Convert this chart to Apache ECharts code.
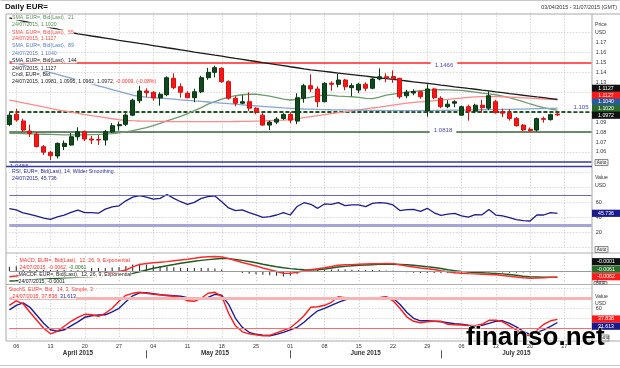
<!DOCTYPE html>
<html><head><meta charset="utf-8">
<script src="https://cdn.jsdelivr.net/npm/echarts/dist/echarts.min.js"></script>
<style>html,body{margin:0;padding:0;background:#fff}#c{width:620px;height:368px}</style>
</head><body><div id="c"></div>
<script>
const categories = [
'2015-04-03',
'2015-04-06','2015-04-07','2015-04-08','2015-04-09','2015-04-10',
'2015-04-13','2015-04-14','2015-04-15','2015-04-16','2015-04-17',
'2015-04-20','2015-04-21','2015-04-22','2015-04-23','2015-04-24',
'2015-04-27','2015-04-28','2015-04-29','2015-04-30','2015-05-01',
'2015-05-04','2015-05-05','2015-05-06','2015-05-07','2015-05-08',
'2015-05-11','2015-05-12','2015-05-13','2015-05-14','2015-05-15',
'2015-05-18','2015-05-19','2015-05-20','2015-05-21','2015-05-22',
'2015-05-25','2015-05-26','2015-05-27','2015-05-28','2015-05-29',
'2015-06-01','2015-06-02','2015-06-03','2015-06-04','2015-06-05',
'2015-06-08','2015-06-09','2015-06-10','2015-06-11','2015-06-12',
'2015-06-15','2015-06-16','2015-06-17','2015-06-18','2015-06-19',
'2015-06-22','2015-06-23','2015-06-24','2015-06-25','2015-06-26',
'2015-06-29','2015-06-30','2015-07-01','2015-07-02','2015-07-03',
'2015-07-06','2015-07-07','2015-07-08','2015-07-09','2015-07-10',
'2015-07-13','2015-07-14','2015-07-15','2015-07-16','2015-07-17',
'2015-07-20','2015-07-21','2015-07-22','2015-07-23','2015-07-24',
'2015-07-27','2015-07-28','2015-07-29','2015-07-30','2015-07-31'];
const monthLabels = ['April 2015','May 2015','June 2015','July 2015'];

const opens = [1.0875,1.0980,1.0912,1.0810,1.0778,1.0653,1.0597,1.0560,1.0655,1.0670,
1.0753,1.0803,1.0730,1.0725,1.0720,1.0803,1.0864,1.0878,1.0970,1.1115,
1.1213,1.1200,1.1143,1.1175,1.1340,1.1256,1.1190,1.1145,1.1205,1.1346,
1.1400,1.1440,1.1306,1.1140,1.1090,1.1105,1.1040,1.0970,1.0870,1.0900,
1.0937,1.0977,1.0910,1.1140,1.1266,1.1233,1.1105,1.1290,1.1280,1.1323,
1.1246,1.1222,1.1280,1.1240,1.1333,1.1356,1.1358,1.1340,1.1165,1.1192,
1.1205,1.1012,1.1233,1.1140,1.1055,1.1090,1.0970,1.1055,1.1010,1.1070,
1.1040,1.1105,1.1005,1.0990,1.0937,1.0870,1.0828,1.0820,1.0935,1.0925,1.0981];
const closes = [1.0970,1.0922,1.0820,1.0785,1.0655,1.0598,1.0563,1.0687,1.0687,1.0753,
1.0803,1.0730,1.0720,1.0720,1.0803,1.0864,1.0875,1.0971,1.1120,1.1213,
1.1195,1.1143,1.1180,1.1346,1.1246,1.1200,1.1145,1.1205,1.1346,1.1400,
1.1447,1.1306,1.1140,1.1090,1.1105,1.1040,1.0997,1.0870,1.0900,1.0930,
1.0977,1.0920,1.1145,1.1266,1.1233,1.1105,1.1290,1.1280,1.1323,1.1256,
1.1266,1.1280,1.1240,1.1333,1.1356,1.1345,1.1335,1.1155,1.1200,1.1207,
1.1155,1.1233,1.1145,1.1055,1.1080,1.1105,1.1055,1.1010,1.1070,1.1045,
1.1165,1.0995,1.0990,1.0937,1.0864,1.0822,1.0814,1.0935,1.0928,1.0975,1.0972];
const lows = [1.0860,1.0905,1.0800,1.0750,1.0645,1.0570,1.0520,1.0535,1.0620,1.0665,
1.0715,1.0710,1.0680,1.0670,1.0665,1.0790,1.0815,1.0860,1.0960,1.1090,
1.1150,1.1115,1.1065,1.1160,1.1230,1.1145,1.1140,1.1100,1.1190,1.1325,
1.1350,1.1295,1.1125,1.1060,1.1080,1.1010,1.0980,1.0865,1.0820,1.0880,
1.0920,1.0890,1.0880,1.1095,1.1200,1.1050,1.1100,1.1215,1.1250,1.1220,
1.1160,1.1190,1.1210,1.1230,1.1320,1.1300,1.1295,1.1135,1.1140,1.1170,
1.1135,1.0955,1.1130,1.1040,1.1040,1.1050,1.0965,1.0915,1.0990,1.0995,
1.1020,1.0985,1.0950,1.0915,1.0855,1.0810,1.0805,1.0805,1.0895,1.0915,1.0962];
const highs = [1.1000,1.1035,1.0935,1.0875,1.0800,1.0670,1.0610,1.0695,1.0715,1.0790,
1.0848,1.0815,1.0760,1.0770,1.0820,1.0890,1.0905,1.0990,1.1135,1.1265,
1.1240,1.1210,1.1200,1.1360,1.1390,1.1290,1.1210,1.1235,1.1365,1.1445,
1.1467,1.1450,1.1320,1.1160,1.1170,1.1200,1.1050,1.0990,1.0915,1.0950,
1.0990,1.1000,1.1190,1.1285,1.1380,1.1260,1.1300,1.1310,1.1385,1.1335,
1.1290,1.1295,1.1300,1.1345,1.1440,1.1390,1.1420,1.1345,1.1225,1.1230,
1.1215,1.1280,1.1245,1.1160,1.1120,1.1120,1.1065,1.1075,1.1085,1.1125,
1.1210,1.1125,1.1035,1.1030,1.0950,1.0880,1.0845,1.0945,1.0955,1.0985,1.0995];

const sma21 = [1.0788,1.0786,1.0784,1.0782,1.0780,1.0778,1.0776,1.0774,1.0772,1.0771,
1.0771,1.0772,1.0774,1.0776,1.0779,1.0784,1.0792,1.0803,1.0815,1.0830,
1.0845,1.0865,1.0888,1.0912,1.0935,1.0958,1.0985,1.1015,1.1045,1.1080,
1.1105,1.1130,1.1152,1.1165,1.1175,1.1180,1.1180,1.1172,1.1160,1.1145,
1.1130,1.1122,1.1128,1.1138,1.1150,1.1165,1.1172,1.1168,1.1162,1.1158,
1.1155,1.1148,1.1138,1.1135,1.1150,1.1172,1.1182,1.1192,1.1200,1.1208,
1.1215,1.1222,1.1224,1.1225,1.1224,1.1222,1.1218,1.1210,1.1202,1.1192,
1.1183,1.1175,1.1162,1.1145,1.1125,1.1105,1.1082,1.1062,1.1045,1.1030,1.1020];
const sma55 = [1.1122,1.1108,1.1094,1.1080,1.1066,1.1052,1.1038,1.1024,1.1012,1.1000,
1.0988,1.0976,1.0965,1.0955,1.0945,1.0934,1.0924,1.0918,1.0914,1.0911,
1.0910,1.0908,1.0907,1.0906,1.0905,1.0905,1.0904,1.0904,1.0904,1.0904,
1.0904,1.0905,1.0905,1.0906,1.0907,1.0908,1.0910,1.0912,1.0915,1.0918,
1.0921,1.0925,1.0935,1.0945,1.0955,1.0965,1.0975,1.0985,1.0995,1.1002,
1.1012,1.1022,1.1032,1.1042,1.1050,1.1060,1.1070,1.1080,1.1090,1.1098,
1.1104,1.1108,1.1115,1.1122,1.1128,1.1135,1.1142,1.1148,1.1153,1.1157,
1.1158,1.1157,1.1155,1.1152,1.1148,1.1144,1.1140,1.1136,1.1132,1.1129,1.1127];
const sma89 = [1.1512,1.1493,1.1474,1.1455,1.1436,1.1417,1.1398,1.1379,1.1360,1.1341,
1.1322,1.1303,1.1284,1.1265,1.1246,1.1227,1.1208,1.1189,1.1170,1.1158,
1.1152,1.1147,1.1141,1.1136,1.1130,1.1124,1.1119,1.1113,1.1108,1.1102,
1.1096,1.1091,1.1085,1.1080,1.1074,1.1068,1.1063,1.1058,1.1053,1.1048,
1.1043,1.1039,1.1035,1.1032,1.1030,1.1028,1.1026,1.1024,1.1023,1.1022,
1.1021,1.1020,1.1019,1.1018,1.1017,1.1016,1.1016,1.1015,1.1015,1.1015,
1.1015,1.1016,1.1017,1.1018,1.1019,1.1020,1.1021,1.1022,1.1023,1.1024,
1.1025,1.1026,1.1027,1.1028,1.1030,1.1031,1.1033,1.1035,1.1037,1.1038,1.1040];
const sma144 = [1.1946,1.1930,1.1914,1.1898,1.1882,1.1866,1.1850,1.1834,1.1818,1.1800,
1.1787,1.1776,1.1765,1.1755,1.1744,1.1733,1.1722,1.1712,1.1701,1.1690,
1.1680,1.1669,1.1658,1.1647,1.1637,1.1626,1.1615,1.1604,1.1594,1.1583,
1.1572,1.1562,1.1551,1.1540,1.1530,1.1519,1.1509,1.1498,1.1488,1.1477,
1.1467,1.1456,1.1446,1.1435,1.1425,1.1417,1.1409,1.1401,1.1393,1.1385,
1.1377,1.1369,1.1361,1.1353,1.1345,1.1337,1.1329,1.1321,1.1313,1.1305,
1.1297,1.1289,1.1281,1.1272,1.1264,1.1255,1.1247,1.1238,1.1230,1.1221,
1.1213,1.1204,1.1196,1.1187,1.1179,1.1170,1.1162,1.1153,1.1145,1.1136,1.1127];

const rsi = [52,50.3,46.5,44.5,42,39.5,37.8,41,43.5,47,
50.2,46.8,46.7,46,51.5,54.5,55.8,62.5,67.5,69.3,
67.5,64.7,65.8,71,65.8,61.3,57.9,60.5,65.8,68,
69,61.3,53,49.5,50.3,46.8,43.8,40.5,41.3,43.6,
46.7,43.6,55,60,57.9,52.5,58.3,57.9,60,56,
57,57,54.7,59.2,60,59.5,57,49.5,50.8,51.2,
48.5,52.5,46.5,43,44.8,45.8,42.3,40.8,44.2,43.8,
51,43.5,42.3,40.2,37.5,36,35.6,43.6,43.6,46.7,45.736];

const macd = [-0.0057,-0.0050,-0.0042,-0.0035,-0.0033,-0.0035,-0.0040,-0.0040,-0.0038,-0.0033,
-0.0028,-0.0027,-0.0026,-0.0025,-0.0020,-0.0012,-0.0005,0.0010,0.0042,0.0065,
0.0075,0.0082,0.0088,0.0094,0.0102,0.0110,0.0118,0.0127,0.0137,0.0143,
0.0145,0.0140,0.0125,0.0105,0.0085,0.0068,0.0050,0.0030,0.0012,-0.0005,
-0.0022,-0.0024,-0.0012,0.0002,0.0012,0.0022,0.0033,0.0045,0.0058,0.0062,
0.0064,0.0067,0.0070,0.0072,0.0074,0.0076,0.0074,0.0062,0.0050,0.0040,
0.0030,0.0022,0.0015,0.0003,-0.0008,-0.0018,-0.0022,-0.0026,-0.0029,-0.0032,
-0.0035,-0.0038,-0.0045,-0.0052,-0.0060,-0.0068,-0.0072,-0.0071,-0.0068,-0.0064,-0.0062];
const macdSignal = [-0.0100,-0.0097,-0.0093,-0.0089,-0.0085,-0.0081,-0.0077,-0.0073,-0.0069,-0.0066,
-0.0063,-0.0060,-0.0057,-0.0054,-0.0051,-0.0048,-0.0045,-0.0040,-0.0024,-0.0007,
0.0010,0.0027,0.0040,0.0053,0.0065,0.0078,0.0088,0.0097,0.0106,0.0114,
0.0120,0.0125,0.0124,0.0115,0.0106,0.0095,0.0082,0.0068,0.0055,0.0043,
0.0032,0.0024,0.0017,0.0012,0.0010,0.0013,0.0020,0.0030,0.0040,0.0046,
0.0052,0.0056,0.0060,0.0063,0.0066,0.0070,0.0068,0.0065,0.0062,0.0058,
0.0050,0.0042,0.0035,0.0025,0.0012,0.0004,-0.0004,-0.0010,-0.0015,-0.0018,
-0.0021,-0.0025,-0.0029,-0.0035,-0.0043,-0.0053,-0.0058,-0.0060,-0.0062,-0.0063,-0.0061];
const macdHist = [0.0043,0.0047,0.0051,0.0054,0.0052,0.0046,0.0037,0.0033,0.0031,0.0033,
0.0035,0.0033,0.0031,0.0029,0.0031,0.0036,0.0040,0.0050,0.0066,0.0072,
0.0065,0.0055,0.0048,0.0041,0.0037,0.0032,0.0030,0.0030,0.0031,0.0029,
0.0025,0.0015,0.0001,-0.0010,-0.0021,-0.0027,-0.0032,-0.0038,-0.0043,-0.0048,
-0.0054,-0.0048,-0.0029,-0.0010,0.0002,0.0009,0.0013,0.0015,0.0018,0.0016,
0.0012,0.0011,0.0010,0.0009,0.0008,0.0006,0.0006,-0.0003,-0.0012,-0.0018,
-0.0020,-0.0020,-0.0020,-0.0022,-0.0020,-0.0022,-0.0018,-0.0016,-0.0014,-0.0014,
-0.0014,-0.0013,-0.0016,-0.0017,-0.0017,-0.0015,-0.0014,-0.0011,-0.0006,-0.0001,-0.0001];

const stochK = [66,75,69,52,36,20,9,14,24,34,
42,48,47,44,50,60,74,86,90,92,
90,88,87,85,84,82,75,74,80,90,
92,84,50,25,13,9,7,5,6,11,
16,21,32,45,62,63,66,72,83,81,
80,79,78,80,81,83,75,60,43,34,
31,33,34,34,28,27,26.5,25.5,25,28,
36,36,33,25,17,8,5,16,28,35,37.838];
const stochD = [57,66,71,62,46,30,17,14,17,25,
33,42,45,46.5,47,53,60,73,85,91,
91,89,87,86,85,84,81,78,78,82,
88,86,68,40,22,12,8,6,5,8,
12,17,22,32,44,55,60,66,72,77,
80,80,80,80,81,82,80,68,52,40,
35,35,34,33,31,29,28,26,25,26,
30,34,35,30,23,14,8,12,17,24,31.613];

const priceLevels = [1.1466, 1.105, 1.0818, 1.0455];
const priceTickLabels = ['1.06','1.07','1.08','1.09','1.10','1.11','1.12','1.13','1.14','1.15','1.16','1.17'];
const rsiTickLabels = [20, 40, 60];
const rsiBands = [70, 30];
const stochTickLabels = [60];
const stochBands = [80, 20];

// ---------------------------------------------------------------
const FONT = '"Liberation Sans", Arial, Helvetica, sans-serif';
const chart = echarts.init(document.getElementById('c'), null, {renderer: 'canvas', width: 620, height: 368});
const isMonday = v => new Date(v + 'T00:00:00Z').getUTCDay() === 1;
const monthStarts = new Set();
const monthMid = {};
(function () {
  const groups = {}; const order = [];
  categories.forEach((c, i) => { const k = c.slice(0, 7); if (!groups[k]) { groups[k] = []; order.push(k); } groups[k].push(i); });
  order.forEach((k, gi) => { const g = groups[k]; if (g[0] !== 0) monthStarts.add(g[0]); monthMid[g[Math.floor(g.length / 2)]] = monthLabels[gi]; });
})();
const dmy = s => s.slice(8, 10) + '/' + s.slice(5, 7) + '/' + s.slice(0, 4);
const n = closes.length;
const lastDate = dmy(categories[n - 1]);

const gridBase = {left: 9.4, right: 28.3, containLabel: false, outerBoundsMode: 'none'};
const grids = [
  Object.assign({top: 12.6, height: 159.3}, gridBase),
  Object.assign({top: 172.7, height: 75}, gridBase),
  Object.assign({top: 253, height: 30}, gridBase),
  Object.assign({top: 288.3, height: 50}, gridBase)
];
const vSplit = {show: true, interval: (i, v) => isMonday(v), lineStyle: {color: '#c4c4c4', type: [1, 2], width: 1}};
function xAx(gi, labels) {
  return {type: 'category', gridIndex: gi, data: categories, boundaryGap: false,
    axisLine: {show: false}, axisTick: {show: false},
    axisLabel: labels ? {show: true, interval: (i, v) => isMonday(v), formatter: v => v.slice(8), fontSize: 5.4, color: '#333', margin: 6, fontFamily: FONT} : {show: false},
    splitLine: vSplit};
}
const hSplit = {show: true, showMinLine: false, showMaxLine: false, lineStyle: {color: '#c4c4c4', type: [1, 2], width: 1}};
const lblStyle = {fontSize: 5.4, color: '#333', margin: 4, fontFamily: FONT};

const option = {
  animation: false,
  textStyle: {fontFamily: FONT},
  grid: grids,
  xAxis: [xAx(0, false), xAx(1, false), xAx(2, false), xAx(3, true),
    {type: 'category', gridIndex: 3, data: categories, boundaryGap: false, position: 'bottom', offset: 12,
     axisLine: {show: false},
     axisTick: {show: true, interval: (i) => monthStarts.has(i), length: 8, lineStyle: {color: '#555', width: 1}},
     axisLabel: {show: true, interval: (i) => monthMid[i] !== undefined, formatter: (v) => monthMid[categories.indexOf(v)] || '',
       fontSize: 6.3, fontWeight: 'bold', color: '#333', margin: 0, fontFamily: FONT},
     splitLine: {show: false}}],
  yAxis: [
    {type: 'value', gridIndex: 0, position: 'right', min: 1.04, max: 1.20, interval: 0.01, scale: true,
     axisLine: {show: false}, axisTick: {show: false}, splitLine: {show: false},
     axisLabel: Object.assign({formatter: v => priceTickLabels.includes(v.toFixed(2)) ? v.toFixed(2) : ''}, lblStyle)},
    {type: 'value', gridIndex: 0, position: 'left', min: 1.04, max: 1.20, interval: 0.02,
     axisLine: {show: false}, axisTick: {show: false}, axisLabel: {show: false}, splitLine: hSplit},
    {type: 'value', gridIndex: 1, position: 'right', min: 0, max: 100, interval: 20,
     axisLine: {show: false}, axisTick: {show: false}, splitLine: {show: true, lineStyle: {color: '#c4c4c4', type: [1, 2]}},
     axisLabel: Object.assign({formatter: v => rsiTickLabels.includes(v) ? String(v) : ''}, lblStyle)},
    {type: 'value', gridIndex: 2, position: 'right', min: -0.012, max: 0.018,
     axisLine: {show: false}, axisTick: {show: false}, axisLabel: {show: false}, splitLine: {show: false}},
    {type: 'value', gridIndex: 3, position: 'right', min: 0, max: 100, interval: 20,
     axisLine: {show: false}, axisTick: {show: false}, splitLine: {show: true, lineStyle: {color: '#c4c4c4', type: [1, 2]}},
     axisLabel: Object.assign({formatter: v => stochTickLabels.includes(v) ? String(v) : ''}, lblStyle)}
  ],
  series: [
    {type: 'line', xAxisIndex: 0, yAxisIndex: 0, data: sma21, showSymbol: false, z: 3,
     lineStyle: {color: '#6f9a6f', width: 1.3},
     markLine: {silent: true, symbol: 'none', label: {show: false}, z: 2,
       data: [
         {yAxis: priceLevels[0], lineStyle: {color: '#ff2424', width: 1.5, type: 'solid'}},
         {yAxis: priceLevels[1], lineStyle: {color: '#1f551f', width: 2, type: [4, 2]}},
         {yAxis: priceLevels[2], lineStyle: {color: '#3a653a', width: 1.5, type: 'solid'}},
         {yAxis: priceLevels[3], lineStyle: {color: '#3a3a98', width: 1.5, type: 'solid'}}
       ]}},
    {type: 'line', xAxisIndex: 0, yAxisIndex: 0, data: sma55, showSymbol: false, z: 3, lineStyle: {color: '#ff8a8a', width: 1.3}},
    {type: 'line', xAxisIndex: 0, yAxisIndex: 0, data: sma89, showSymbol: false, z: 3, lineStyle: {color: '#86a4cc', width: 1.3}},
    {type: 'line', xAxisIndex: 0, yAxisIndex: 0, data: sma144, showSymbol: false, z: 3, lineStyle: {color: '#1a1a1a', width: 1.3}},
    {type: 'candlestick', xAxisIndex: 0, yAxisIndex: 0, z: 5, clip: false, barWidth: 4.5,
     data: opens.map((o, i) => [o, closes[i], lows[i], highs[i]]),
     itemStyle: {color: '#0e4a1c', color0: '#ff1414', borderColor: '#0b3514', borderColor0: '#d41010', borderWidth: 1}},
    {type: 'line', xAxisIndex: 1, yAxisIndex: 2, data: rsi, showSymbol: false, z: 3,
     lineStyle: {color: '#1c1c8c', width: 1.3},
     markLine: {silent: true, symbol: 'none', label: {show: false},
       data: [{yAxis: rsiBands[0], lineStyle: {color: '#6868c0', width: 1, type: 'solid'}},
              {yAxis: rsiBands[1], lineStyle: {color: '#a4a4d8', width: 3, type: 'solid'}}]}},
    {type: 'bar', xAxisIndex: 2, yAxisIndex: 3, data: macdHist, barWidth: 1, itemStyle: {color: '#222'}, z: 2,
     markLine: {silent: true, symbol: 'none', label: {show: false},
       data: [{yAxis: 0, lineStyle: {color: '#999', width: 1, type: 'solid'}}]}},
    {type: 'line', xAxisIndex: 2, yAxisIndex: 3, data: macdSignal, showSymbol: false, z: 3, lineStyle: {color: '#1f5a1f', width: 1.4}},
    {type: 'line', xAxisIndex: 2, yAxisIndex: 3, data: macd, showSymbol: false, z: 4, lineStyle: {color: '#ff2a2a', width: 1.4}},
    {type: 'line', xAxisIndex: 3, yAxisIndex: 4, data: stochD, showSymbol: false, z: 3, lineStyle: {color: '#1c1c94', width: 1.4},
     markLine: {silent: true, symbol: 'none', label: {show: false},
       data: [{yAxis: stochBands[0], lineStyle: {color: '#f6b4b4', width: 3, type: 'solid'}},
              {yAxis: stochBands[1], lineStyle: {color: '#ff6a6a', width: 1, type: 'solid'}}]}},
    {type: 'line', xAxisIndex: 3, yAxisIndex: 4, data: stochK, showSymbol: false, z: 4, lineStyle: {color: '#ff1a1a', width: 1.4}}
  ]
};
chart.setOption(option);

// ---------------- decorations (text, frames, value tags) ----------------
const G = [];
const mctx = document.createElement('canvas').getContext('2d');
function tw(t, size, weight) { mctx.font = (weight || 'normal') + ' ' + size + 'px ' + FONT; return mctx.measureText(t).width; }
function txt(x, y, t, color, size, extra) {
  const st = Object.assign({text: t, fill: color, fontSize: size, fontFamily: FONT, align: 'left', verticalAlign: 'middle',
    textAlign: 'left', textVerticalAlign: 'middle'}, extra || {});
  G.push({type: 'text', x: x, y: y, z: 100, silent: true, style: st});
}
function multi(x, y, parts, size, bg) {
  let cx = x;
  parts.forEach(p => { txt(cx, y, p[0], p[1], size, bg ? {backgroundColor: '#fff'} : {}); cx += tw(p[0], size); });
}
function line(x1, y1, x2, y2, color, w, z) { G.push({type: 'line', z: z || 99, silent: true, shape: {x1, y1, x2, y2}, style: {stroke: color, lineWidth: w}}); }
function rect(x, y, w, h, fill, stroke, z) { G.push({type: 'rect', z: z || 100, silent: true, shape: {x, y, width: w, height: h}, style: {fill: fill, stroke: stroke || null, lineWidth: 1}}); }
function tag(y, t, bg) { rect(592, y - 3.6, 28, 7.2, bg, null, 101); G.push({type: 'text', x: 606, y: y, z: 102, silent: true, style: {text: t, fill: '#fff', fontSize: 5.2, fontFamily: FONT, align: 'center', verticalAlign: 'middle', textAlign: 'center', textVerticalAlign: 'middle'}}); }
function auto(x, y, w, h) { rect(x, y, w, h, '#eeeeee', '#8a8a8a', 101); G.push({type: 'text', x: x + w / 2, y: y + h / 2, z: 102, silent: true, style: {text: 'Auto', fill: '#333', fontSize: 4.6, fontFamily: FONT, align: 'center', verticalAlign: 'middle', textAlign: 'center', textVerticalAlign: 'middle'}}); }

// frame
line(0.5, 0.5, 619.5, 0.5, '#c8c8c8', 1);
line(6, 14, 620, 14, '#a8a8a8', 1);
line(6, 14, 6, 341, '#a8a8a8', 1);
line(592, 14, 592, 341, '#a8a8a8', 1);
line(6, 253, 620, 253, '#b0b0b0', 1);
line(6, 284.5, 620, 284.5, '#b0b0b0', 1);
line(6, 341, 620, 341, '#a8a8a8', 1);
line(0, 365.5, 620, 365.5, '#c8c8c8', 1);

// title + header
txt(5, 7, 'Daily EUR=', '#111', 8, {fontWeight: 'bold'});
G.push({type: 'text', x: 617, y: 7.3, z: 100, silent: true, style: {text: dmy(categories[0]) + ' - ' + dmy(categories[categories.length - 1]) + ' (GMT)', fill: '#333', fontSize: 5.4, fontFamily: FONT, align: 'right', verticalAlign: 'middle', textAlign: 'right', textVerticalAlign: 'middle'}});

// level labels
const yOf = v => chart.convertToPixel({yAxisIndex: 0}, v);
function levelLabel(cx, v, t) {
  const w = tw(t, 6.1);
  txt(cx - w / 2, yOf(v), t, '#4a4ab8', 6.1, {backgroundColor: '#fff', padding: [1, 4, 1, 4]});
}
levelLabel(440, priceLevels[0], String(priceLevels[0]));
levelLabel(439, priceLevels[2], String(priceLevels[2]));
levelLabel(577, priceLevels[1], String(priceLevels[1]));
// bottom level label, half hidden by next panel
txt(8, yOf(priceLevels[3]), String(priceLevels[3]), '#4a4ab8', 6.1, {backgroundColor: '#fff', padding: [0, 2, 0, 2]});
rect(6.5, 167.2, 60, 4.5, '#fff', null, 100);
line(6, yOf(priceLevels[3]), 592, yOf(priceLevels[3]), '#3a3a98', 1.5, 100);

// main legend
const LS = 5.2;
const legendRows = [
  [[['SMA, EUR=, Bid(Last),  21', '#5f8f5f']], 17.7],
  [[[lastDate + ', ' + sma21[n - 1].toFixed(4), '#5f8f5f']], 25],
  [[['SMA, EUR=, Bid(Last),  55', '#ff4a4a']], 32.3],
  [[[lastDate + ', ' + sma55[n - 1].toFixed(4), '#ff4a4a']], 39],
  [[['SMA, EUR=, Bid(Last),  89', '#5a7fb8']], 45.8],
  [[[lastDate + ', ' + sma89[n - 1].toFixed(4), '#5a7fb8']], 53.2],
  [[['SMA, EUR=, Bid(Last),  144', '#222']], 60.7],
  [[[lastDate + ', ' + sma144[n - 1].toFixed(4), '#222']], 68.2],
  [[['Cndl, EUR=, Bid', '#222']], 75],
  [[[lastDate + ', ' + opens[n - 1].toFixed(4) + ', ' + highs[n - 1].toFixed(4) + ', ' + lows[n - 1].toFixed(4) + ', ' + closes[n - 1].toFixed(4) + ', ', '#222'],
    [(closes[n - 1] - opens[n - 1]).toFixed(4) + ', (' + ((closes[n - 1] - opens[n - 1]) / opens[n - 1] * 100).toFixed(2) + '%)', '#ff2a2a']], 81.7]
];
legendRows.forEach(r => multi(12, r[1], r[0], LS, true));

// RSI legend
multi(12, 171.8, [['RSI, EUR=, Bid(Last), 14, Wilder Smoothing', '#2a2a8a']], LS, true);
multi(12, 178.3, [[lastDate + ', ' + rsi[n - 1].toFixed(3), '#2a2a8a']], LS, true);
// MACD legend
multi(19.5, 261, [['MACD, EUR=, Bid(Last),  12, 26, 9, Exponential', '#ff3030']], LS, true);
multi(19.5, 267.6, [[lastDate + ', ' + macd[n - 1].toFixed(4) + ', ', '#ff3030'], [macdSignal[n - 1].toFixed(4), '#2a6a2a']], LS, true);
multi(18.5, 275, [['MACDF, EUR=, Bid(Last),  12, 26, 9, Exponential', '#222']], LS, true);
multi(18.5, 281.8, [[lastDate + ', ' + macdHist[n - 1].toFixed(4), '#222']], LS, true);
// Stoch legend
multi(8.5, 289.6, [['StochS, EUR=, Bid,  14, 3, Simple, 3', '#ff3030']], LS, true);
multi(12.5, 296.6, [[lastDate + ', ' + stochK[n - 1].toFixed(3) + ', ', '#ff3030'], [stochD[n - 1].toFixed(3), '#1c1c94']], LS, true);

// right axis captions
txt(595, 25, 'Price', '#333', LS); txt(595, 32.3, 'USD', '#333', LS);
txt(595, 178, 'Value', '#333', LS); txt(595, 186, 'USD', '#333', LS);
txt(595, 296.7, 'Value', '#333', LS); txt(595, 304, 'USD', '#333', LS);

// value tags
tag(88.3, sma144[n - 1].toFixed(4), '#111');
tag(95.5, sma55[n - 1].toFixed(4), '#ff1a1a');
tag(102, sma89[n - 1].toFixed(4), '#2a5a9a');
tag(108.6, sma21[n - 1].toFixed(4), '#2a6a2a');
tag(115.2, closes[n - 1].toFixed(4), '#111');
tag(213.3, rsi[n - 1].toFixed(3), '#1a1a8a');
tag(261.7, macdHist[n - 1].toFixed(4), '#111');
tag(269.2, macdSignal[n - 1].toFixed(4), '#2a6a2a');
tag(276.7, macd[n - 1].toFixed(4), '#ff1a1a');
tag(319, stochK[n - 1].toFixed(3), '#ff1a1a');
tag(326.2, stochD[n - 1].toFixed(3), '#1a1a8a');
auto(595, 159.5, 13, 6);
auto(595, 246.5, 13, 6);
auto(594, 281.5, 13, 3);
auto(600, 335, 9, 6);

// watermark
G.push({type: 'text', x: 466, y: 337.5, z: 110, silent: true, style: {text: 'finanso.net', fill: '#000', fontSize: 26, fontWeight: 'bold', fontFamily: FONT, align: 'left', verticalAlign: 'middle', textAlign: 'left', textVerticalAlign: 'middle', stroke: '#fff', lineWidth: 1}});

chart.setOption({graphic: {elements: G}});
</script></body></html>
